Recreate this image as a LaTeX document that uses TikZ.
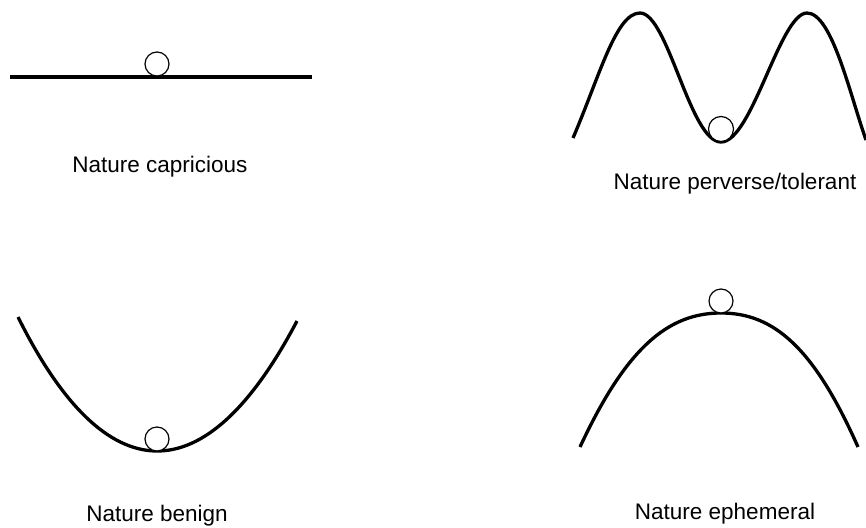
\documentclass[tikz,border=0pt]{standalone}
\usepackage{fontspec}
\setmainfont{Liberation Sans}
\begin{document}
\begin{tikzpicture}[x=1pt,y=-1pt,
  curve/.style={line width=3.3pt},
  ball/.style={circle,draw,line width=1.2pt,inner sep=0pt,minimum size=24pt,fill=white},
  caption/.style={anchor=base,inner sep=0pt,font=\fontsize{22.5}{27}\selectfont}]
\useasboundingbox (0,0) rectangle (866,527);
% Panel 1: Nature capricious
\coordinate (l1) at (10,77);
\coordinate (r1) at (312,77);
\draw[curve] (l1) -- (r1);
\node[ball] (b1) at (157,64) {};
\node[caption] (t1) at (160,172) {Nature capricious};
% Panel 2: Nature perverse/tolerant
\coordinate (a2) at (573,138);
\coordinate (p2a) at (640,13);
\coordinate (v2) at (721,142);
\coordinate (p2b) at (807,13);
\coordinate (e2) at (866,140);
\draw[curve] (a2) .. controls (600,75) and (616,13) .. (p2a)
  .. controls (668,13) and (690,142) .. (v2)
  .. controls (752,142) and (780,13) .. (p2b)
  .. controls (832,13) and (850,95) .. (e2);
\node[ball,minimum size=25pt] (b2) at (721,129) {};
\node[caption] (t2) at (735,189) {Nature perverse/tolerant};
% Panel 3: Nature benign
\coordinate (a3) at (18,317);
\coordinate (e3) at (297,321);
\draw[curve] (a3) .. controls (106,494) and (205,496) .. (e3);
\node[ball] (b3) at (157,439) {};
\node[caption] (t3) at (157,521) {Nature benign};
% Panel 4: Nature ephemeral
\coordinate (a4) at (580,447);
\coordinate (e4) at (858,447);
\draw[curve] (a4) .. controls (626,348) and (668,313) .. (721,313)
  .. controls (774,313) and (814,348) .. (e4);
\node[ball] (b4) at (721,301) {};
\node[caption] (t4) at (725,519) {Nature ephemeral};
\end{tikzpicture}
\end{document}
